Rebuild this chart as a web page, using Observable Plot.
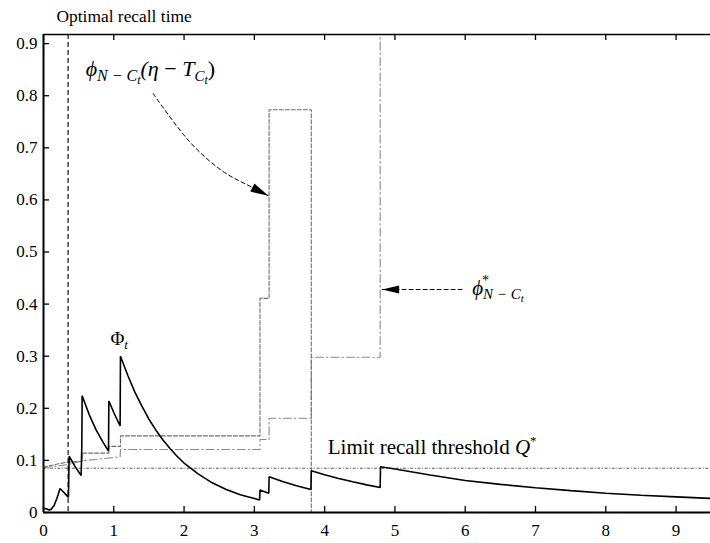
<!DOCTYPE html>
<html><head><meta charset="utf-8">
<script src="https://cdn.jsdelivr.net/npm/d3@7"></script>
<script src="https://cdn.jsdelivr.net/npm/@observablehq/plot@0.6"></script>
<style>
body{margin:0;background:#fff}
#chart svg{display:block}
#chart svg, #chart svg text, #chart svg tspan{font-family:"Liberation Serif","Times New Roman",serif !important}
</style>
</head><body><div id="chart"></div>
<script>
// ---- Data ----
// Φ_t (solid black)
const phiT_x = [0, 0.04, 0.08, 0.11, 0.13, 0.15, 0.17, 0.19, 0.21, 0.235, 0.35, 0.355, 0.36, 0.365, 0.45, 0.536, 0.545, 0.55, 0.65, 0.75, 0.85, 0.925, 0.93, 1.0, 1.09, 1.095,
  1.2, 1.3, 1.4, 1.5, 1.6, 1.7, 1.8, 1.9, 2.0, 2.2, 2.4, 2.6, 2.8, 3.0, 3.075, 3.08, 3.205, 3.21, 3.4, 3.6, 3.805, 3.81,
  4.0, 4.2, 4.4, 4.6, 4.79, 4.795, 5.0, 5.5, 6.0, 6.5, 7.0, 7.5, 8.0, 8.5, 9.0, 9.49];
const phiT_y = [0.008, 0.007, 0.005, 0.006, 0.010, 0.013, 0.020, 0.027, 0.035, 0.046, 0.030, 0.030, 0.070, 0.108, 0.088, 0.071, 0.128, 0.224, 0.188, 0.158, 0.134, 0.118, 0.214, 0.192, 0.166, 0.300,
  0.263, 0.231, 0.204, 0.179, 0.158, 0.139, 0.123, 0.108, 0.095, 0.074, 0.057, 0.044, 0.034, 0.027, 0.024, 0.043, 0.037, 0.0685, 0.0596, 0.0513, 0.044, 0.080,
  0.0726, 0.0654, 0.0589, 0.053, 0.048, 0.0877, 0.0835, 0.072, 0.0615, 0.054, 0.0475, 0.042, 0.037, 0.033, 0.030, 0.027];
// ϕ_{N−Ct}(η − T_Ct) (gray dashed steps)
const stepDash_x = [0, 0.2, 0.35, 0.55, 0.55, 0.93, 0.93, 1.095, 1.095, 3.08, 3.08, 3.21, 3.21, 3.81, 3.81];
const stepDash_y = [0.087, 0.093, 0.097, 0.098, 0.114, 0.114, 0.127, 0.127, 0.147, 0.147, 0.411, 0.411, 0.773, 0.773, 0];
// ϕ*_{N−Ct} (gray dash-dot steps)
const stepDashDot_x = [0, 0.35, 0.55, 1.09, 1.095, 3.08, 3.08, 3.21, 3.21, 3.81, 3.81, 4.79, 4.79];
const stepDashDot_y = [0.086, 0.092, 0.099, 0.107, 0.121, 0.121, 0.140, 0.140, 0.181, 0.181, 0.298, 0.298, 1.0];
const optimalRecallTime = 0.35;
const limitThreshold = 0.085;
// annotation arrows
const arrow1_x = [1.56, 2.09, 2.55, 2.97, 3.2];
const arrow1_y = [0.804, 0.71, 0.655, 0.624, 0.608];
const arrow2_x = [5.956, 4.818];
const arrow2_y = [0.428, 0.428];
// labels
const labelTexts = ["Optimal recall time", "ϕN−Ct(η−TCt)", "Φt", "Limit recall threshold Q*", "ϕ*N−Ct"];
const labelX = [0.185, 0.6, 0.953, 4.044, 6.10];
const labelY = [0.9424, 0.838, 0.322, 0.113, 0.418];
const labelSize = [17.4, 22, 19, 21, 21];
// ticks
const xTicks = [0, 1, 2, 3, 4, 5, 6, 7, 8, 9];
const xTickLabels = ["0", "1", "2", "3", "4", "5", "6", "7", "8", "9"];
const yTicks = [0, 0.1, 0.2, 0.3, 0.4, 0.5, 0.6, 0.7, 0.8, 0.9];
const yTickLabels = ["0", "0.1", "0.2", "0.3", "0.4", "0.5", "0.6", "0.7", "0.8", "0.9"];
const xDomain = [0, 9.49];
const yDomain = [0, 0.9175];

// ---- Build ----
const pts = (xs, ys) => xs.map((x, i) => ({x, y: ys[i]}));
const labels = labelTexts.map((t, i) => ({t, x: labelX[i], y: labelY[i], s: labelSize[i]}));

function headSymbol(angleDeg, L, w) {
  const a = angleDeg * Math.PI / 180, c = Math.cos(a), s = Math.sin(a);
  return {draw(ctx) {
    const bx = -L * c, by = -L * s;
    ctx.moveTo(0, 0);
    ctx.lineTo(bx - w * s, by + w * c);
    ctx.lineTo(bx + w * s, by - w * c);
    ctx.closePath();
  }};
}

const chart = Plot.plot({
  width: 710, height: 543,
  marginLeft: 43, marginRight: 0, marginTop: 34, marginBottom: 31,
  style: {fontSize: "17px", background: "white", color: "black"},
  x: {domain: xDomain, axis: null},
  y: {domain: yDomain, axis: null},
  marks: [
    Plot.ruleY([limitThreshold], {stroke: "#444", strokeWidth: 0.9, strokeDasharray: "3,1.6,1,1.6"}),
    Plot.line(pts(stepDashDot_x, stepDashDot_y), {x: "x", y: "y", stroke: "#8a8a8a", strokeWidth: 1.1, strokeDasharray: "8,3,1.5,3", clip: true}),
    Plot.line(pts(stepDash_x, stepDash_y), {x: "x", y: "y", stroke: "#6e6e6e", strokeWidth: 1.1, strokeDasharray: "4,2"}),
    Plot.ruleX([optimalRecallTime], {stroke: "black", strokeWidth: 1.1, strokeDasharray: "5,3"}),
    Plot.line(pts(phiT_x, phiT_y), {x: "x", y: "y", stroke: "black", strokeWidth: 1.6, strokeLinejoin: "miter"}),
    // annotation arrows
    Plot.line(pts(arrow1_x, arrow1_y), {x: "x", y: "y", curve: "catmull-rom", stroke: "black", strokeWidth: 1, strokeDasharray: "4,3"}),
    Plot.dot([{x: arrow1_x[4], y: arrow1_y[4]}], {x: "x", y: "y", symbol: headSymbol(27, 18, 4.5), fill: "black", stroke: "none"}),
    Plot.line(pts(arrow2_x, arrow2_y), {x: "x", y: "y", stroke: "black", strokeWidth: 1, strokeDasharray: "4,3"}),
    Plot.dot([{x: arrow2_x[1], y: arrow2_y[1]}], {x: "x", y: "y", symbol: headSymbol(180, 17, 4), fill: "black", stroke: "none"}),
    // frame
    Plot.ruleY([yDomain[1]], {stroke: "black", strokeWidth: 1.5}),
    Plot.ruleY([0], {stroke: "black", strokeWidth: 2}),
    Plot.ruleX([0], {stroke: "black", strokeWidth: 2}),
    // inward ticks
    Plot.ruleX(xTicks, {x: d => d, y1: 0, y2: 0, insetTop: -6, stroke: "black", strokeWidth: 1.3}),
    Plot.ruleX(xTicks, {x: d => d, y1: yDomain[1], y2: yDomain[1], insetBottom: -6, stroke: "black", strokeWidth: 1.3}),
    Plot.ruleY(yTicks, {y: d => d, x1: 0, x2: 0, insetRight: -6, stroke: "black", strokeWidth: 1.3}),
    // tick labels
    Plot.axisX(xTicks, {tickSize: 0, tickPadding: 11, tickFormat: d => xTickLabels[xTicks.indexOf(d)], label: null, fontSize: 17}),
    Plot.axisY(yTicks, {tickSize: 0, tickPadding: 6, tickFormat: d => yTickLabels[yTicks.indexOf(d)], label: null, fontSize: 17}),
    // labels
    Plot.text(labels, {x: "x", y: "y", text: "t", fontSize: d => d.s, textAnchor: "start", lineAnchor: "bottom", fill: "black"})
  ]
});

// rich formatting of math labels (still real text)
const rich = {
  "ϕN−Ct(η−TCt)": '<tspan font-style="italic">ϕ</tspan><tspan font-size="16" dy="5" font-style="italic">N − C</tspan><tspan font-size="12" dy="3" font-style="italic">t</tspan><tspan dy="-8" font-style="italic">(η</tspan><tspan> − </tspan><tspan font-style="italic">T</tspan><tspan font-size="15" dy="5" font-style="italic">C</tspan><tspan font-size="12" dy="3" font-style="italic">t</tspan><tspan dy="-8">)</tspan>',
  "Φt": 'Φ<tspan font-size="13" dy="4" font-style="italic">t</tspan>',
  "Limit recall threshold Q*": 'Limit recall threshold <tspan font-style="italic">Q</tspan><tspan font-size="13" dy="-9">*</tspan>',
  "ϕ*N−Ct": '<tspan font-style="italic">ϕ</tspan><tspan font-size="14" dx="-1" dy="-10">*</tspan><tspan font-size="15" dx="-6" dy="14" font-style="italic">N − C</tspan><tspan font-size="11" dy="3" font-style="italic">t</tspan>'
};
chart.querySelectorAll("text").forEach(el => {
  const k = el.textContent;
  if (rich[k]) el.innerHTML = rich[k];
});
document.getElementById("chart").appendChild(chart);
</script>
</body></html>
